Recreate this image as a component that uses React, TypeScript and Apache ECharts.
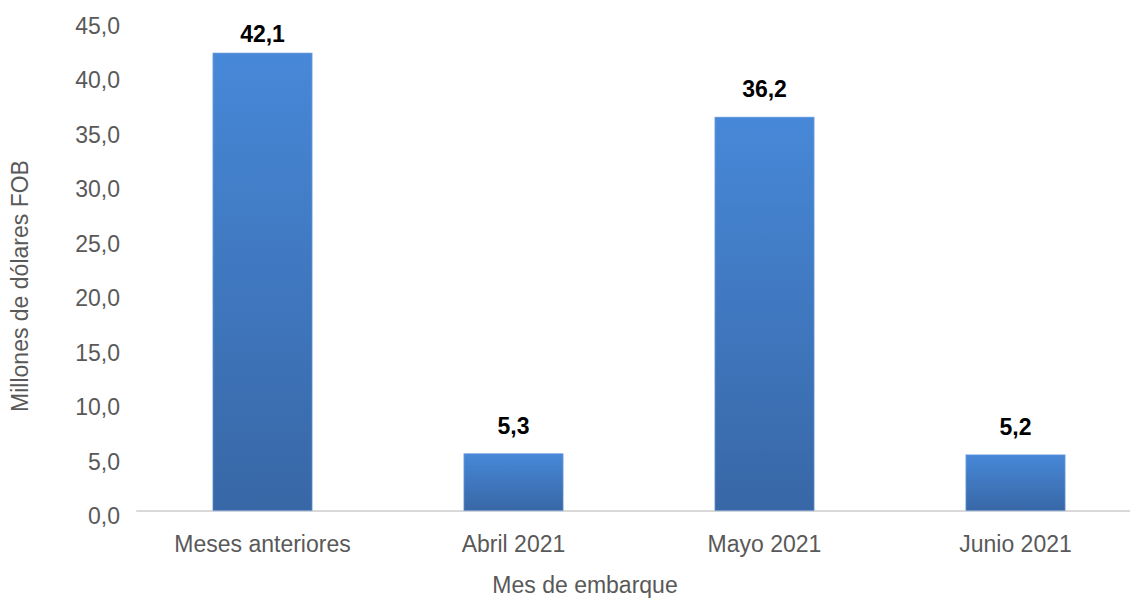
import React, { useEffect, useRef } from "react";
import * as echarts from "echarts";

const categories = ["Meses anteriores", "Abril 2021", "Mayo 2021", "Junio 2021"];
const values = [42.1, 5.3, 36.2, 5.2];
const yAxisTitle = "Millones de dólares FOB";
const xAxisTitle = "Mes de embarque";

const fmt = (v: number) => v.toFixed(1).replace(".", ",");

export default function App() {
  const ref = useRef<HTMLDivElement>(null);
  useEffect(() => {
    if (!ref.current) return;
    const chart = echarts.init(ref.current, null, { renderer: "svg" });
    const font = "Arial, 'Liberation Sans', sans-serif";
    const seriesData = values.map((v, i) =>
      i === 0 ? { value: v, label: { distance: 7 } } : { value: v }
    );
    chart.setOption({
      animation: false,
      backgroundColor: "#ffffff",
      grid: { left: 137, top: 21, height: 490, width: 1004, containLabel: false },
      xAxis: {
        type: "category",
        data: categories,
        axisLine: { show: true, lineStyle: { color: "#d9d9d9", width: 2 } },
        axisTick: { show: false },
        axisLabel: { color: "#595959", fontSize: 23, fontFamily: font, margin: 21 },
      },
      yAxis: {
        type: "value",
        min: 0,
        max: 45,
        interval: 5,
        splitLine: { show: false },
        axisLine: { show: false },
        axisTick: { show: false },
        axisLabel: {
          color: "#595959",
          fontSize: 23,
          fontFamily: font,
          margin: 17,
          verticalAlign: "top",
          lineHeight: 10,
          formatter: (v: number) => fmt(v),
        },
      },
      graphic: [
        {
          type: "text",
          x: 20,
          y: 286,
          rotation: Math.PI / 2,
          style: {
            text: yAxisTitle,
            fill: "#595959",
            font: `23px ${font}`,
            textAlign: "center",
            textVerticalAlign: "middle",
          },
        },
        {
          type: "text",
          x: 585,
          y: 585,
          style: {
            text: xAxisTitle,
            fill: "#595959",
            font: `23px ${font}`,
            textAlign: "center",
            textVerticalAlign: "middle",
          },
        },
      ],
      series: [
        {
          type: "bar",
          data: seriesData,
          barWidth: 100,
          itemStyle: {
            color: new echarts.graphic.LinearGradient(0, 0, 0, 1, [
              { offset: 0, color: "#4788d8" },
              { offset: 1, color: "#3867a6" },
            ]),
            borderColor: "#8fb4e6",
            borderWidth: 0.6,
          },
          label: {
            show: true,
            position: "top",
            distance: 16,
            color: "#000000",
            fontSize: 23,
            fontWeight: "bold",
            fontFamily: font,
            formatter: (p: any) => fmt(p.value),
          },
        },
      ],
    });
    return () => chart.dispose();
  }, []);
  return (
    <div style={{ position: "absolute", left: 0, top: 0, width: 1130, height: 598, overflow: "hidden" }}>
      <div ref={ref} style={{ width: 1160, height: 598 }} />
    </div>
  );
}
